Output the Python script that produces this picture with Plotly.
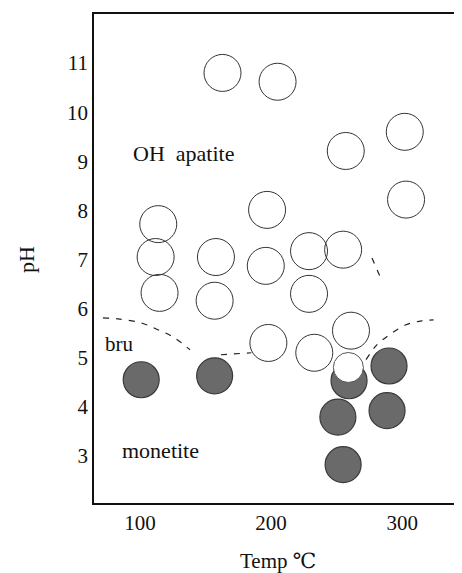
import plotly.graph_objects as go

# Open circles (OH apatite products): temperature (°C), pH
open_T = [163, 205, 257, 302, 303, 197, 114, 112, 115, 158, 157, 196, 229, 255, 229, 198, 233, 261]
open_pH = [10.80, 10.62, 9.21, 9.60, 8.22, 8.01, 7.72, 7.05, 6.32, 7.05, 6.16, 6.87, 7.17, 7.20, 6.30, 5.30, 5.10, 5.55]

# Open circle overlapping a filled one (white interior)
over_T = [259]
over_pH = [4.80]

# Filled circles (monetite products)
fill_T = [101, 157, 259.5, 251, 255, 290, 288.5]
fill_pH = [4.55, 4.63, 4.53, 3.79, 2.82, 4.83, 3.92]

# Dashed boundaries
bndA_T = [71.8, 83.2, 100.8, 113.7, 126.7, 138.2]
bndA_pH = [5.81, 5.79, 5.71, 5.57, 5.40, 5.16]
bndB_T = [161.8, 185]
bndB_pH = [5.06, 5.10]
bndC_T = [272.5, 280, 290, 303, 315, 324]
bndC_pH = [4.96, 5.24, 5.46, 5.67, 5.75, 5.77]
bndD_T = [277, 284.7]
bndD_pH = [7.03, 6.56]

x_ticks = [100, 200, 300]
y_ticks = [3, 4, 5, 6, 7, 8, 9, 10, 11]

FONT = "'Liberation Serif', 'DejaVu Serif', serif"

fig = go.Figure()
for bx, by in [(bndA_T, bndA_pH), (bndB_T, bndB_pH), (bndC_T, bndC_pH), (bndD_T, bndD_pH)]:
    fig.add_trace(go.Scatter(x=bx, y=by, mode="lines", line=dict(color="#222", width=1.2, dash="6px,7px", shape="spline"),
                             hoverinfo="skip", showlegend=False))

fig.add_trace(go.Scatter(x=open_T, y=open_pH, mode="markers",
                         marker=dict(symbol="circle-open", size=37, color="#333", line=dict(width=1.0, color="#333")),
                         showlegend=False))
fig.add_trace(go.Scatter(x=fill_T, y=fill_pH, mode="markers",
                         marker=dict(symbol="circle", size=36, color="#6a6a6a", line=dict(width=1.2, color="#3a3a3a")),
                         showlegend=False))
fig.add_trace(go.Scatter(x=over_T, y=over_pH, mode="markers",
                         marker=dict(symbol="circle", size=30, color="white", line=dict(width=1, color="#555")),
                         showlegend=False))

fig.add_annotation(x=133, y=9.15, text="OH&nbsp;&nbsp;apatite", showarrow=False,
                   font=dict(family=FONT, size=22, color="#111"), xanchor="center", yanchor="middle")
fig.add_annotation(x=84, y=5.27, text="bru", showarrow=False,
                   font=dict(family=FONT, size=21, color="#111"), xanchor="center", yanchor="middle")
fig.add_annotation(x=116, y=3.1, text="monetite", showarrow=False,
                   font=dict(family=FONT, size=22, color="#111"), xanchor="center", yanchor="middle")

fig.add_annotation(xref="paper", yref="paper", x=(270 - 86) / 375, y=-(553 - 495) / 489,
                   text="Temp ℃", showarrow=False, xanchor="center", yanchor="middle",
                   font=dict(family=FONT, size=21, color="#111"))
fig.add_annotation(xref="paper", yref="paper", x=(18 - 86) / 375, y=(495 - 252) / 489,
                   text="pH", showarrow=False, xanchor="center", yanchor="middle", textangle=-90,
                   font=dict(family=FONT, size=22, color="#111"))

fig.update_layout(
    template="none",
    width=462, height=573,
    margin=dict(l=86, r=1, t=6, b=78, pad=0),
    paper_bgcolor="white", plot_bgcolor="white",
    font=dict(family=FONT, size=21, color="#111"),
    showlegend=False,
)
fig.update_xaxes(range=[65, 351], tickvals=x_ticks, ticktext=[str(v) for v in x_ticks], ticks="",
                 automargin=False,
                 showgrid=False, zeroline=False, showline=True, linecolor="#111", linewidth=1.5, mirror=True,
                 tickfont=dict(family=FONT, size=21, color="#111"))
fig.update_yaxes(range=[2.04, 12.0], tickvals=y_ticks, ticktext=[str(v) for v in y_ticks], ticks="",
                 automargin=False,
                 showgrid=False, zeroline=False, showline=True, linecolor="#111", linewidth=1.5, mirror=True,
                 tickfont=dict(family=FONT, size=21, color="#111"))

fig.write_html("out.html")
